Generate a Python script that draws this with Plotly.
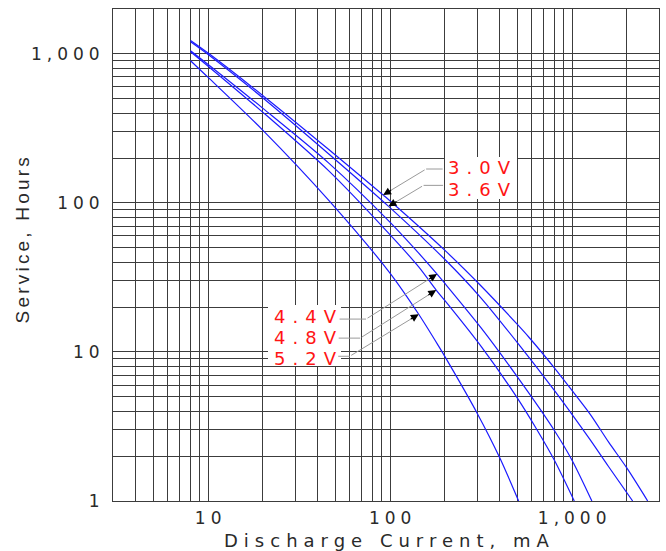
import math
import plotly.graph_objects as go

# ---------------- data ----------------
series_names = ["3.0V", "3.6V", "4.4V", "4.8V", "5.2V"]

x_30 = [8, 10, 20, 46, 91.5, 100, 200, 316, 500, 577, 800, 1000, 1260, 1580, 2000, 2600]
y_30 = [1230, 1012, 524, 228, 113, 103, 48, 27.7, 15.3, 12.6, 7.8, 5.5, 3.8, 2.5, 1.66, 1.0]

x_36 = [8, 10, 20, 46, 98, 200, 316, 519, 800, 1000, 1260, 1580, 2150]
y_36 = [1207, 991, 506, 213, 94.8, 41.7, 23.0, 10.9, 5.5, 3.8, 2.56, 1.71, 1.0]

x_44 = [8, 10, 20, 46, 100, 143.5, 181, 200, 316, 500, 800, 1000, 1283]
y_44 = [1050, 849, 431, 185, 74, 46, 33.3, 28.8, 14.5, 6.8, 2.96, 1.87, 1.0]

x_48 = [8, 10, 20, 46, 100, 143.5, 179, 200, 316, 500, 631, 800, 1027]
y_48 = [1034, 826, 405, 164, 61, 37.2, 26, 22.1, 10.9, 4.9, 3.1, 1.87, 1.0]

x_52 = [8, 10, 20, 46, 100, 143.5, 185, 200, 300, 400, 508]
y_52 = [900, 695, 307, 104, 33.7, 17.9, 10.9, 9.3, 3.9, 1.95, 1.0]

# points on each curve where the label arrows touch
label_tip_x = [91.5, 98, 181, 179, 143.5]
label_tip_y = [113, 94.8, 33.3, 26, 17.9]

x_tick_vals = [3, 4, 5, 6, 7, 8, 9, 10, 20, 30, 40, 50, 60, 70, 80, 90,
               100, 200, 300, 400, 500, 600, 700, 800, 900, 1000, 2000, 3000]
x_tick_labels = {10: "10", 100: "100", 1000: "1,000"}
y_tick_vals = [1, 2, 3, 4, 5, 6, 7, 8, 9, 10, 20, 30, 40, 50, 60, 70, 80, 90,
               100, 200, 300, 400, 500, 600, 700, 800, 900, 1000, 2000]
y_tick_labels = {1: "1", 10: "10", 100: "100", 1000: "1,000"}

x_title = "Discharge Current, mA"
y_title = "Service, Hours"

# ---------------- styling / layout geometry ----------------
W, H = 666, 551
ML, MR, MT, MB = 113, 7, 9, 50
PW, PH = W - ML - MR, H - MT - MB

def px(xpix):
    return (xpix - ML) / PW

def py(ypix):
    return (MT + PH - ypix) / PH

CURVE = "#1a1aff"
GRID = "#3c3c3c"
LEADER = "#9a9a9a"
LABEL = "#ff1414"
TXT = "#2a2a2a"
FONT = "DejaVu Sans"

fig = go.Figure()
for name, xs, ys in [("3.0V", x_30, y_30), ("3.6V", x_36, y_36), ("4.4V", x_44, y_44),
                     ("4.8V", x_48, y_48), ("5.2V", x_52, y_52)]:
    fig.add_trace(go.Scatter(x=xs, y=ys, mode="lines", name=name,
                             line=dict(color=CURVE, width=1.2, shape="spline", smoothing=0.8),
                             showlegend=False, hoverinfo="x+y+name"))

axis_common = dict(type="log", showgrid=True, gridcolor=GRID, gridwidth=1,
                   showline=True, linecolor=GRID, linewidth=1, mirror=True,
                   ticks="", zeroline=False,
                   tickfont=dict(family=FONT, size=17, color=TXT))

fig.update_xaxes(range=[math.log10(3), math.log10(3000)], tickmode="array",
                 tickvals=x_tick_vals, ticktext=[x_tick_labels.get(v, "") for v in x_tick_vals],
                 ticklabelstandoff=2, **axis_common)
fig.update_yaxes(range=[0, math.log10(2000)], tickmode="array",
                 tickvals=y_tick_vals, ticktext=[y_tick_labels.get(v, "") for v in y_tick_vals],
                 ticklabelstandoff=9, **axis_common)

# leader geometry (pixels): tip->elbow (dx, dy), horizontal segment length, label centre
leaders = [
    (43, -26, 18, (479.5, 168)),
    (35, -21, 21, (479.5, 189)),
    (-71, 45, -28, (305.5, 316)),
    (-76, 48, -23, (305.5, 337)),
    (-69, 42, -13, (305.5, 358)),
]

shapes = [
    dict(type="rect", xref="paper", yref="paper", x0=px(445), x1=px(517), y0=py(199), y1=py(157),
         fillcolor="white", line=dict(width=0), layer="above"),
    dict(type="rect", xref="paper", yref="paper", x0=px(268), x1=px(341), y0=py(366), y1=py(305),
         fillcolor="white", line=dict(width=0), layer="above"),
]

annotations = []
for name, tx, ty, (dx, dy, seg, (cx, cy)) in zip(series_names, label_tip_x, label_tip_y, leaders):
    X, Y = math.log10(tx), math.log10(ty)
    # diagonal gray leader
    annotations.append(dict(x=X, y=Y, xref="x", yref="y", text="", showarrow=True,
                            arrowhead=0, arrowcolor=LEADER, arrowwidth=1, ax=dx, ay=dy))
    # horizontal gray leader segment from the elbow
    annotations.append(dict(x=X, y=Y, xref="x", yref="y", text="", showarrow=True,
                            xshift=dx, yshift=-dy, arrowhead=0, arrowcolor=LEADER,
                            arrowwidth=1, ax=seg, ay=0))
    # black arrowhead at the tip
    k = 11.0 / math.hypot(dx, dy)
    annotations.append(dict(x=X, y=Y, xref="x", yref="y", text="", showarrow=True,
                            arrowhead=2, arrowsize=1.3, arrowcolor="black", arrowwidth=1.2,
                            ax=dx * k, ay=dy * k))
    # label text
    annotations.append(dict(x=px(cx + 3.5), y=py(cy), xref="paper", yref="paper", text=name,
                            showarrow=False, xanchor="center", yanchor="middle",
                            font=dict(family=FONT, size=18, color=LABEL)))

# axis titles
annotations.append(dict(x=px(389), y=py(540), xref="paper", yref="paper", text=x_title,
                        showarrow=False, xanchor="center", yanchor="middle",
                        font=dict(family=FONT, size=18, color=TXT)))
annotations.append(dict(x=px(22), y=py(239), xref="paper", yref="paper", text=y_title,
                        showarrow=False, textangle=-90, xanchor="center", yanchor="middle",
                        font=dict(family="Liberation Sans Narrow, Liberation Sans, Arial",
                                  size=19, color=TXT)))

fig.update_layout(width=W, height=H, margin=dict(l=ML, r=MR, t=MT, b=MB),
                  paper_bgcolor="white", plot_bgcolor="white",
                  shapes=shapes, annotations=annotations, showlegend=False)

# remove the page's default body margin and widen the letter spacing of the texts,
# imitating the wide stroke font of the original
post = """
document.body.style.margin = '0';
var gd = document.getElementById('{plot_id}');
gd.querySelectorAll('.xtick text').forEach(function(t){
  t.style.letterSpacing = '5px'; t.setAttribute('dx', '2.5');
});
gd.querySelectorAll('.ytick text').forEach(function(t){
  t.style.letterSpacing = '5px'; t.setAttribute('dx', '5');
});
gd.querySelectorAll('.annotation-text').forEach(function(t){
  var s = t.textContent;
  if (s.indexOf('Service') === 0) { t.style.letterSpacing = '3.2px'; }
  else if (s.indexOf('Discharge') === 0) { t.style.letterSpacing = '6px'; }
  else if (/V$/.test(s)) { t.style.letterSpacing = '7px'; }
});
"""

fig.write_html("out.html", post_script=post, config={"displayModeBar": False})
